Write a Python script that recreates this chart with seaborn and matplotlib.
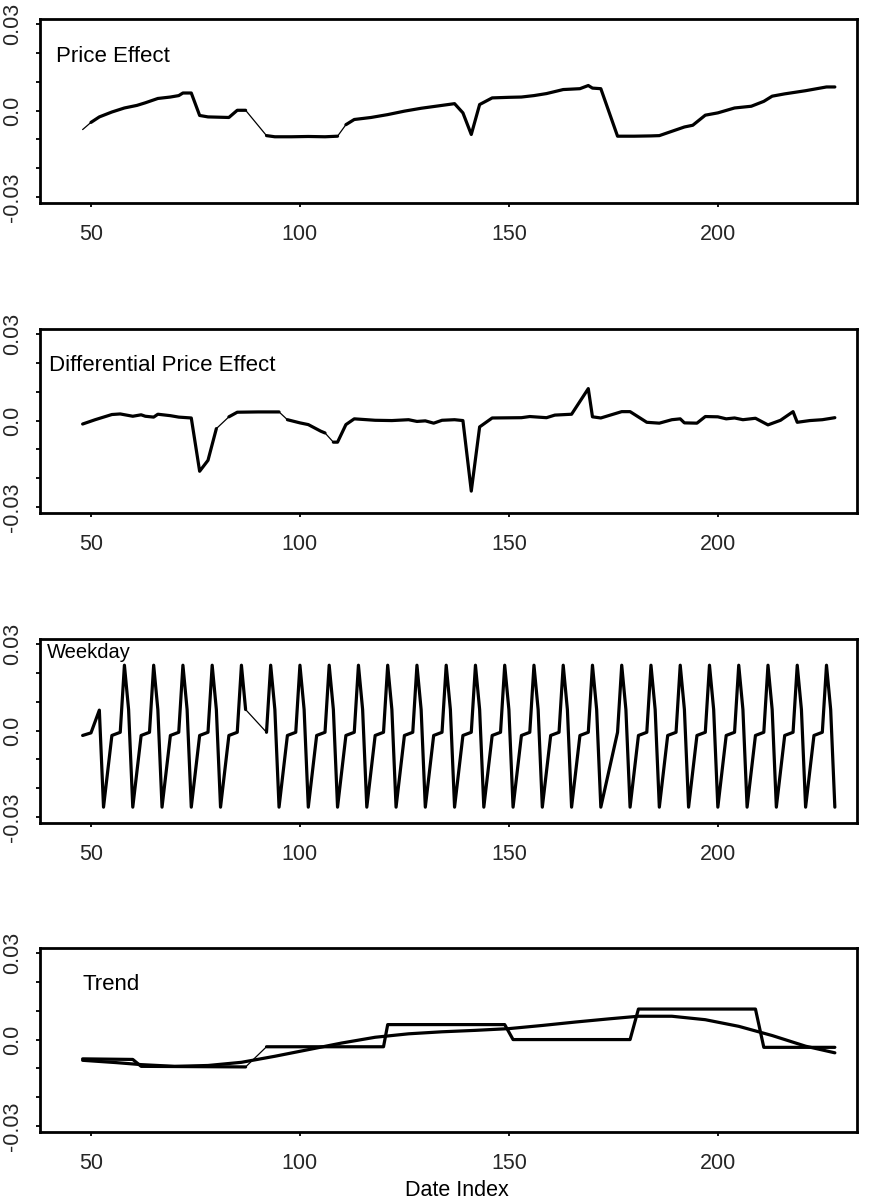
import numpy as np
import pandas as pd
import matplotlib
matplotlib.use("Agg")
import matplotlib.pyplot as plt
import seaborn as sns

# ---------------- data ----------------
price_x = [48, 50, 52, 55, 58, 61, 63, 66, 69, 71, 72, 74, 76, 78, 83, 85, 87,
           92, 94, 98, 102, 106, 109, 111, 113, 117, 121, 125, 129, 134, 137,
           139, 141, 143, 146, 150, 153, 156, 159, 163, 167, 169, 170, 172,
           176, 180, 184, 186, 189, 192, 194, 197, 200, 204, 208, 211, 213,
           216, 221, 226, 228]
price_y = [-0.0066, -0.0041, -0.0022, -0.0005, 0.0009, 0.0018, 0.0027, 0.0042,
           0.0047, 0.0052, 0.0061, 0.0061, -0.0017, -0.0022, -0.0024, 0.0001,
           0.0001, -0.0087, -0.0091, -0.0091, -0.0090, -0.0091, -0.0089,
           -0.0049, -0.0031, -0.0024, -0.0014, -0.0002, 0.0008, 0.0018, 0.0024,
           -0.0008, -0.0083, 0.0021, 0.0044, 0.0046, 0.0047, 0.0052, 0.0059,
           0.0073, 0.0076, 0.0087, 0.0078, 0.0076, -0.0089, -0.0089, -0.0088,
           -0.0087, -0.0072, -0.0057, -0.0051, -0.0016, -0.0008, 0.0009,
           0.0015, 0.0032, 0.0050, 0.0058, 0.0069, 0.0082, 0.0082]
price_thin_after = [48, 87, 109]

diff_x = [48, 51, 55, 57, 60, 62, 63, 65, 66, 69, 71, 74, 76, 78, 80, 83, 85,
          90, 95, 97, 100, 102, 105, 106, 108, 109, 111, 113, 118, 122, 126,
          128, 130, 132, 134, 137, 139, 141, 143, 146, 153, 155, 159, 161,
          165, 169, 170, 172, 177, 179, 183, 186, 189, 191, 192, 195, 197,
          200, 202, 204, 206, 209, 212, 215, 218, 219, 222, 225, 228]
diff_y = [-0.0012, 0.0003, 0.0021, 0.0023, 0.0015, 0.0020, 0.0015, 0.0012,
          0.0022, 0.0017, 0.0012, 0.0009, -0.0176, -0.0138, -0.0028, 0.0013,
          0.0029, 0.0030, 0.0030, 0.0003, -0.0008, -0.0014, -0.0037, -0.0043,
          -0.0075, -0.0075, -0.0014, 0.0006, 0.0001, 0.0000, 0.0003, -0.0003,
          -0.0001, -0.0009, 0.0001, 0.0003, 0.0000, -0.0245, -0.0022, 0.0009,
          0.0010, 0.0014, 0.0010, 0.0019, 0.0022, 0.0111, 0.0013, 0.0009,
          0.0031, 0.0031, -0.0006, -0.0009, 0.0003, 0.0006, -0.0008, -0.0009,
          0.0014, 0.0013, 0.0006, 0.0009, 0.0003, 0.0008, -0.0015, 0.0001,
          0.0031, -0.0006, 0.0000, 0.0003, 0.0010]
diff_thin_after = [80, 95, 106]

weekday_x = [48, 50, 52,
             53, 55, 57, 58, 59,
             60, 62, 64, 65, 66,
             67, 69, 71, 72, 73,
             74, 76, 78, 79, 80,
             81, 83, 85, 86, 87,
             92, 93, 94,
             95, 97, 99, 100, 101,
             102, 104, 106, 107, 108,
             109, 111, 113, 114, 115,
             116, 118, 120, 121, 122,
             123, 125, 127, 128, 129,
             130, 132, 134, 135, 136,
             137, 139, 141, 142, 143,
             144, 146, 148, 149, 150,
             151, 153, 155, 156, 157,
             158, 160, 162, 163, 164,
             165, 167, 169, 170, 171,
             172, 176, 177, 178,
             179, 181, 183, 184, 185,
             186, 188, 190, 191, 192,
             193, 195, 197, 198, 199,
             200, 202, 204, 205, 206,
             207, 209, 211, 212, 213,
             214, 216, 218, 219, 220,
             221, 223, 225, 226, 227,
             228]
weekday_y = [-0.0017, -0.0008, 0.0071,
             -0.0266, -0.0017, -0.0006, 0.0227, 0.0073,
             -0.0266, -0.0017, -0.0006, 0.0227, 0.0073,
             -0.0266, -0.0017, -0.0006, 0.0227, 0.0073,
             -0.0266, -0.0017, -0.0006, 0.0227, 0.0073,
             -0.0266, -0.0017, -0.0006, 0.0227, 0.0073,
             -0.0006, 0.0227, 0.0073,
             -0.0266, -0.0017, -0.0006, 0.0227, 0.0073,
             -0.0266, -0.0017, -0.0006, 0.0227, 0.0073,
             -0.0266, -0.0017, -0.0006, 0.0227, 0.0073,
             -0.0266, -0.0017, -0.0006, 0.0227, 0.0073,
             -0.0266, -0.0017, -0.0006, 0.0227, 0.0073,
             -0.0266, -0.0017, -0.0006, 0.0227, 0.0073,
             -0.0266, -0.0017, -0.0006, 0.0227, 0.0073,
             -0.0266, -0.0017, -0.0006, 0.0227, 0.0073,
             -0.0266, -0.0017, -0.0006, 0.0227, 0.0073,
             -0.0266, -0.0017, -0.0006, 0.0227, 0.0073,
             -0.0266, -0.0017, -0.0006, 0.0227, 0.0073,
             -0.0266, -0.0006, 0.0227, 0.0073,
             -0.0266, -0.0017, -0.0006, 0.0227, 0.0073,
             -0.0266, -0.0017, -0.0006, 0.0227, 0.0073,
             -0.0266, -0.0017, -0.0006, 0.0227, 0.0073,
             -0.0266, -0.0017, -0.0006, 0.0227, 0.0073,
             -0.0266, -0.0017, -0.0006, 0.0227, 0.0073,
             -0.0266, -0.0017, -0.0006, 0.0227, 0.0073,
             -0.0266, -0.0017, -0.0006, 0.0227, 0.0073,
             -0.0266]
weekday_thin_after = [87]

trend_step_x = [48, 60, 62, 87, 92, 120, 121, 149, 151, 179, 181, 209, 211, 228]
trend_step_y = [-0.0067, -0.0069, -0.0093, -0.0095, -0.0025, -0.0025, 0.0052,
                0.0052, 0.0000, 0.0000, 0.0106, 0.0106, -0.0027, -0.0027]
trend_step_thin_after = [87]

trend_smooth_x = [48, 56, 62, 70, 78, 86, 94, 102, 110, 118, 126, 134, 142,
                  150, 158, 166, 174, 181, 189, 197, 205, 213, 221, 228]
trend_smooth_y = [-0.0072, -0.0080, -0.0087, -0.0093, -0.0090, -0.0079,
                  -0.0058, -0.0035, -0.0012, 0.0008, 0.0020, 0.0027, 0.0032,
                  0.0038, 0.0049, 0.0061, 0.0072, 0.0081, 0.0081, 0.0069,
                  0.0046, 0.0014, -0.0023, -0.0046]

panel_titles = ["Price Effect", "Differential Price Effect", "Weekday", "Trend"]
x_ticks = [50, 100, 150, 200]
y_ticks = [-0.03, -0.02, -0.01, 0.0, 0.01, 0.02, 0.03]
y_ticklabels = ["-0.03", "", "", "0.0", "", "", "0.03"]
x_label = "Date Index"

# ---------------- style ----------------
sns.set_style("ticks")
plt.rcParams["font.family"] = ["Liberation Sans", "DejaVu Sans"]

W, H = 878, 1203
fig = plt.figure(figsize=(W / 100, H / 100), dpi=100)

left_px, right_px = 40, 857
tops_px = [19, 329, 639, 948]
h_px = 184


def draw_series(ax, x, y, thin_after, thin_lw=0.9, thick_lw=2.3):
    df = pd.DataFrame({"x": x, "y": y})
    df["seg"] = [sum(a < xi for a in thin_after) for xi in x]
    sns.lineplot(data=df, x="x", y="y", color="black", lw=thin_lw,
                 estimator=None, sort=False, ax=ax, legend=False)
    sns.lineplot(data=df, x="x", y="y", units="seg", color="black",
                 lw=thick_lw, estimator=None, sort=False, ax=ax, legend=False)


axes = []
for i, top in enumerate(tops_px):
    ax = fig.add_axes([left_px / W, 1 - (top + h_px) / H,
                       (right_px - left_px) / W, h_px / H])
    axes.append(ax)

draw_series(axes[0], price_x, price_y, price_thin_after)
draw_series(axes[1], diff_x, diff_y, diff_thin_after)
draw_series(axes[2], weekday_x, weekday_y, weekday_thin_after)
draw_series(axes[3], trend_step_x, trend_step_y, trend_step_thin_after)
draw_series(axes[3], trend_smooth_x, trend_smooth_y, [])

title_pos = [(56, 56, 16), (49, 366, 16), (47, 653, 14.5), (83, 984, 16)]
for ax, title, (tx, ty, fs) in zip(axes, panel_titles, title_pos):
    ax.set_xlim(37.8, 233.3)
    ax.set_ylim(-0.0321, 0.0318)
    ax.set_xticks(x_ticks)
    ax.set_xticklabels([str(v) for v in x_ticks], fontsize=15.5)
    ax.set_yticks(y_ticks)
    ax.set_yticklabels(y_ticklabels, fontsize=15.5, rotation=90, va="center")
    ax.tick_params(axis="both", direction="out", length=3.2, width=1.3,
                   color="black")
    ax.tick_params(axis="x", pad=12)
    ax.tick_params(axis="y", pad=9)
    ax.set_xlabel("")
    ax.set_ylabel("")
    for s in ax.spines.values():
        s.set_visible(True)
        s.set_linewidth(2.0)
        s.set_color("black")
    fig.text(tx / W, 1 - ty / H, title, fontsize=fs, ha="left", va="center",
             color="black")

fig.text(457 / W, 1 - 1190 / H, x_label, fontsize=15.5, ha="center",
         va="center", color="black")

fig.savefig("out.png", dpi=100, facecolor="white")
